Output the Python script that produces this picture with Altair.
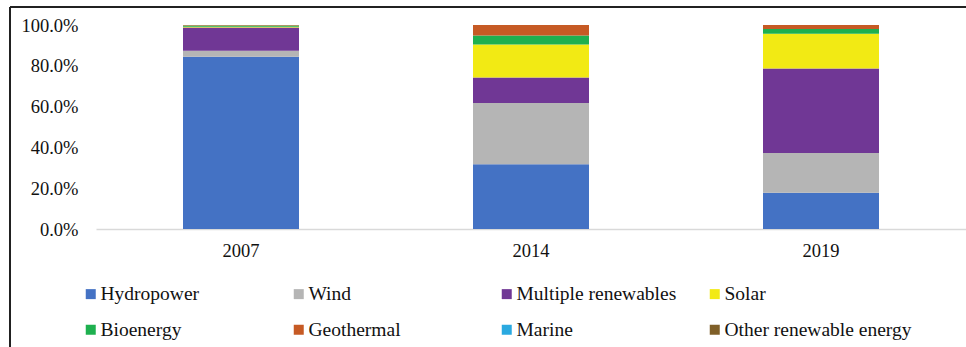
import altair as alt
import pandas as pd

years = ["2007", "2014", "2019"]
sources = ["Hydropower", "Wind", "Multiple renewables", "Solar",
           "Bioenergy", "Geothermal", "Marine", "Other renewable energy"]
colors = ["#4472C4", "#B5B5B5", "#703795", "#F2EA14",
          "#1EB04F", "#C65A24", "#2AA9E0", "#7F5F28"]

# share of each source per year, in percent
hydropower = [84.4, 31.7, 17.8]
wind = [3.0, 30.1, 19.4]
multiple = [11.4, 12.5, 41.5]
solar = [0.4, 16.2, 17.0]
bioenergy = [0.6, 4.4, 2.3]
geothermal = [0.2, 5.1, 2.0]
marine = [0.0, 0.0, 0.0]
other = [0.0, 0.0, 0.0]

series = [hydropower, wind, multiple, solar, bioenergy, geothermal, marine, other]
rows = []
for i, (name, vals) in enumerate(zip(sources, series)):
    for y, v in zip(years, vals):
        rows.append({"year": y, "source": name, "share": v / 100.0, "order": i})
df = pd.DataFrame(rows)

serif = "'Liberation Serif', 'Times New Roman', serif"

bars = alt.Chart(df).mark_bar().encode(
    x=alt.X("year:N", title=None,
            scale=alt.Scale(paddingInner=0.6, paddingOuter=0.3),
            axis=alt.Axis(labelAngle=0, ticks=False, domainColor="#D9D9D9",
                          domainWidth=1.5, labelPadding=12, labelFont=serif,
                          labelFontSize=18.5, labelColor="#111111")),
    y=alt.Y("share:Q", title=None, stack="zero",
            scale=alt.Scale(domain=[0, 1], nice=False),
            axis=alt.Axis(format=".1%", values=[0, 0.2, 0.4, 0.6, 0.8, 1.0],
                          grid=False, ticks=False, domain=False, labelPadding=18,
                          labelFont=serif, labelFontSize=18.5, labelColor="#111111")),
    color=alt.Color("source:N", scale=alt.Scale(domain=sources, range=colors),
                    legend=alt.Legend(title=None, orient="none", legendX=-15, legendY=259,
                                      direction="horizontal", columns=4, gridAlign="all",
                                      columnPadding=1, rowPadding=15,
                                      symbolType="square", symbolSize=100,
                                      symbolStrokeWidth=0, labelFont=serif,
                                      labelFontSize=19.5, labelColor="#111111",
                                      labelOffset=0, padding=0, labelLimit=300)),
    order=alt.Order("order:Q"),
)

frame_top = alt.Chart(df).mark_rule(color="#222222", strokeWidth=1.5).encode(
    x=alt.value(-86), x2=alt.value(900), y=alt.value(-18))
frame_left = alt.Chart(df).mark_rule(color="#222222", strokeWidth=1.5).encode(
    x=alt.value(-86), y=alt.value(-18), y2=alt.value(330))

chart = alt.layer(bars, frame_top, frame_left).properties(
    width=870, height=204,
    autosize=alt.AutoSizeParams(type="none"),
    padding={"left": 96, "top": 25, "right": 0, "bottom": 118},
    background="white",
).configure_view(stroke=None)

chart.save("out.html", embed_options={"renderer": "svg", "actions": False})
